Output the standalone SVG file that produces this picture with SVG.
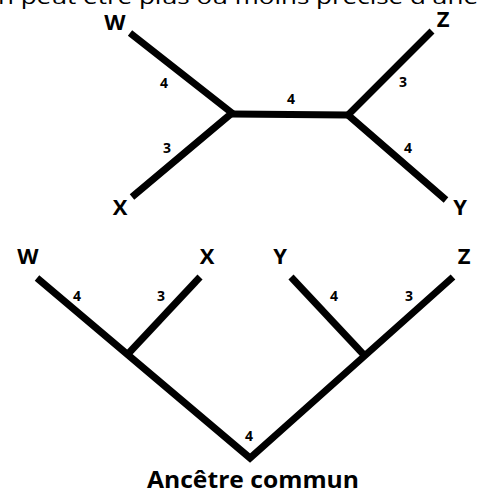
<svg xmlns="http://www.w3.org/2000/svg" width="478" height="495" viewBox="0 0 478 495">
<style>
.br{stroke:#000;stroke-width:7;fill:none;stroke-linecap:butt;stroke-linejoin:miter}
.leaf{font-family:"Open Sans","Noto Sans","Liberation Sans",sans-serif;font-weight:bold;font-size:22px;fill:#000;text-anchor:middle}
.len{font-family:"Open Sans","Noto Sans","Liberation Sans",sans-serif;font-weight:bold;font-size:14px;fill:#000;text-anchor:middle}
.cap{font-family:"Open Sans","Noto Sans","Liberation Sans",sans-serif;font-size:20px;fill:#000}
</style>
<rect width="478" height="495" fill="#fff"/>
<text class="cap" x="-2" y="4" textLength="480" lengthAdjust="spacingAndGlyphs">n peut être plus ou moins précise d'une</text>
<g id="connectors">
  <polyline class="br" points="130,33 232,113 132,197"/>
  <line class="br" x1="232" y1="114" x2="348" y2="115"/>
  <polyline class="br" points="432,31 348,115 446,200"/>
  <polyline class="br" points="37,278 250,458 453,277"/>
  <line class="br" x1="127" y1="355" x2="200" y2="277"/>
  <line class="br" x1="291" y1="277" x2="364" y2="355"/>
</g>
<g id="edge-labels">
  <text class="len" x="164" y="88">4</text>
  <text class="len" x="167" y="153">3</text>
  <text class="len" x="291" y="104">4</text>
  <text class="len" x="403" y="87">3</text>
  <text class="len" x="408" y="153">4</text>
  <text class="len" x="77" y="301">4</text>
  <text class="len" x="161" y="301">3</text>
  <text class="len" x="334" y="301">4</text>
  <text class="len" x="409" y="301">3</text>
  <text class="len" x="249" y="441">4</text>
</g>
<g id="top-W"><text class="leaf" x="115" y="30">W</text></g>
<g id="top-X"><text class="leaf" x="120" y="215">X</text></g>
<g id="top-Z"><text class="leaf" x="443" y="27">Z</text></g>
<g id="top-Y"><text class="leaf" x="460" y="215">Y</text></g>
<g id="bot-W"><text class="leaf" x="28" y="264">W</text></g>
<g id="bot-X"><text class="leaf" x="207" y="264">X</text></g>
<g id="bot-Y"><text class="leaf" x="280" y="264">Y</text></g>
<g id="bot-Z"><text class="leaf" x="464" y="264">Z</text></g>
<g id="root"><text class="leaf" x="147" y="488" style="font-size:23px;text-anchor:start" textLength="212" lengthAdjust="spacingAndGlyphs">Ancêtre commun</text></g>
</svg>
